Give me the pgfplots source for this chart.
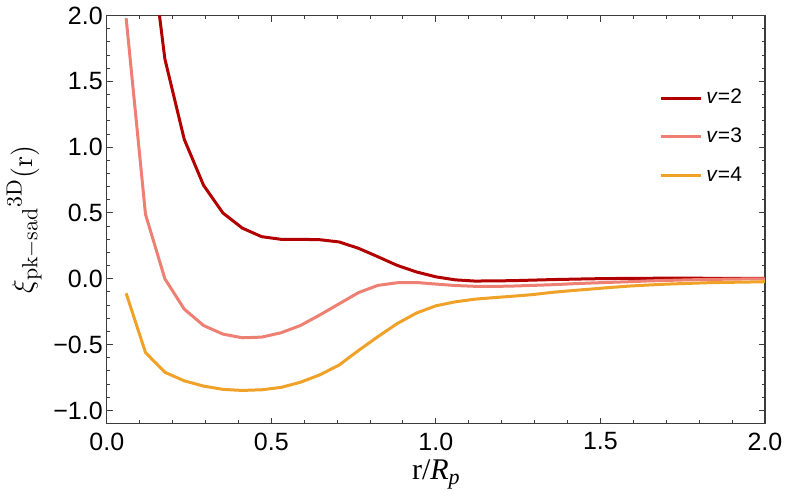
\documentclass[border=0pt]{standalone}
\usepackage{pgfplots}
\pgfplotsset{compat=1.18}
\usepackage[no-math]{fontspec}
\setmainfont{Liberation Sans}
\newfontfamily\serif{Liberation Serif}

\definecolor{ctwo}{RGB}{178,0,0}
\definecolor{cthree}{RGB}{237,128,115}
\definecolor{cfour}{RGB}{240,162,40}
\definecolor{framegray}{RGB}{60,60,60}

\begin{document}
\begin{tikzpicture}
\begin{axis}[
    scale only axis,
    width=329pt, height=204pt,
    xmin=0, xmax=2, ymin=-1.1, ymax=2,
    xtick={0,0.5,1,1.5,2}, ytick={-1,-0.5,0,0.5,1,1.5,2},
    xticklabels={0.0,0.5,1.0,1.5,2.0},
    yticklabels={−1.0,−0.5,0.0,0.5,1.0,1.5,2.0},
    minor x tick num=4, minor y tick num=4,
    tick align=inside,
    major tick length=3pt, minor tick length=1.7pt,
    tick style={framegray, line width=0.5pt},
    axis line style={framegray, line width=0.6pt},
    ticklabel style={font=\fontsize{12.5}{14}\selectfont},
    xticklabel style={yshift=-1pt},
    yticklabel style={xshift=1.5pt},
    xlabel={\fontsize{15}{17}\selectfont\serif r/\textit{R}\raisebox{-0.3ex}{\fontsize{11}{12}\selectfont\textit{p}}},
    ylabel={\fontsize{15.5}{17}\selectfont$\xi_{\mathrm{pk}-\mathrm{sad}}{}^{\mathrm{3D}}(\mathrm{r})$},
    xlabel style={yshift=2pt},
    ylabel style={yshift=-1pt},
    legend style={at={(0.83,0.84)}, anchor=north west, draw=none, fill=none,
        font=\fontsize{10.5}{12}\selectfont, row sep=6.5pt},
    legend cell align=left,
    legend image code/.code={\draw[#1] (0pt,0pt) -- (16pt,0pt); \path (0pt,0pt) -- (20pt,0pt);},
    clip=true,
]
\addplot[ctwo, line width=1.5pt] coordinates {
(0.1176,2.85) (0.1765,1.67) (0.2353,1.06) (0.2941,0.71) (0.3529,0.50)
(0.4118,0.385) (0.4706,0.32) (0.5294,0.30) (0.5882,0.30) (0.6471,0.297)
(0.7059,0.28) (0.7647,0.232) (0.8235,0.168) (0.8824,0.102) (0.9412,0.052)
(1.0,0.015) (1.0588,-0.008) (1.1176,-0.017) (1.1765,-0.016) (1.2353,-0.014)
(1.2941,-0.010) (1.3529,-0.006) (1.4118,-0.003) (1.4706,0.0) (1.5294,0.002)
(1.5882,0.003) (1.6471,0.004) (1.7059,0.005) (1.7647,0.005) (1.8235,0.004)
(1.8824,0.004) (1.9412,0.004) (2.0,0.004)
};
\addlegendentry{\textit{v}=2}
\addplot[cthree, line width=1.5pt] coordinates {
(0.0588,1.98) (0.1176,0.49) (0.1765,0.0) (0.2353,-0.23) (0.2941,-0.355)
(0.3529,-0.42) (0.4118,-0.448) (0.4706,-0.443) (0.5294,-0.41) (0.5882,-0.355)
(0.6471,-0.275) (0.7059,-0.19) (0.7647,-0.105) (0.8235,-0.05) (0.8824,-0.03)
(0.9412,-0.028) (1.0,-0.04) (1.0588,-0.051) (1.1176,-0.057) (1.1765,-0.058)
(1.2353,-0.055) (1.2941,-0.050) (1.3529,-0.045) (1.4118,-0.038) (1.4706,-0.032)
(1.5294,-0.027) (1.5882,-0.022) (1.6471,-0.016) (1.7059,-0.012) (1.7647,-0.008)
(1.8235,-0.005) (1.8824,-0.003) (1.9412,-0.001) (2.0,0.0)
};
\addlegendentry{\textit{v}=3}
\addplot[cfour, line width=1.5pt] coordinates {
(0.0588,-0.11) (0.1176,-0.56) (0.1765,-0.71) (0.2353,-0.775) (0.2941,-0.815)
(0.3529,-0.84) (0.4118,-0.848) (0.4706,-0.843) (0.5294,-0.825) (0.5882,-0.786)
(0.6471,-0.73) (0.7059,-0.655) (0.7647,-0.545) (0.8235,-0.44) (0.8824,-0.34)
(0.9412,-0.26) (1.0,-0.205) (1.0588,-0.175) (1.1176,-0.155) (1.1765,-0.143)
(1.2353,-0.132) (1.2941,-0.120) (1.3529,-0.103) (1.4118,-0.090) (1.4706,-0.078)
(1.5294,-0.066) (1.5882,-0.055) (1.6471,-0.047) (1.7059,-0.040) (1.7647,-0.035)
(1.8235,-0.030) (1.8824,-0.027) (1.9412,-0.025) (2.0,-0.022)
};
\addlegendentry{\textit{v}=4}
\end{axis}
\end{tikzpicture}
\end{document}
